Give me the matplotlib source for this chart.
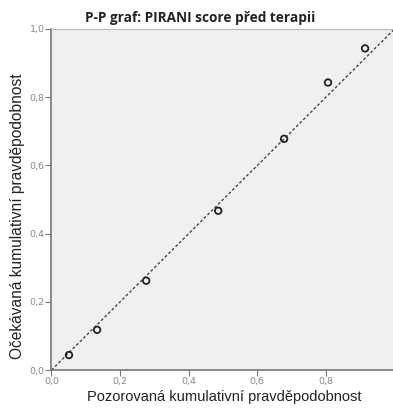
import matplotlib.pyplot as plt

# P-P data: observed vs expected cumulative probability
observed = [0.051, 0.133, 0.276, 0.486, 0.678, 0.806, 0.914]
expected = [0.044, 0.118, 0.262, 0.467, 0.678, 0.843, 0.943]
tick_vals = [0.0, 0.2, 0.4, 0.6, 0.8, 1.0]
x_tick_labels = ['0,0', '0,2', '0,4', '0,6', '0,8', '1']
y_tick_labels = ['0,0', '0,2', '0,4', '0,6', '0,8', '1,0']

fig = plt.figure(figsize=(3.93, 4.08), dpi=100)
ax = fig.add_axes([0.131, 0.093, 0.873, 0.836])
ax.set_facecolor('#eff0f2')

# diagonal reference line
ax.plot([0, 1], [0, 1], color='#444444', linestyle=(0, (2, 1.6)), linewidth=1.0, zorder=2)
ax.scatter(observed, expected, s=22, facecolors='none', edgecolors='#222222',
           linewidths=1.3, zorder=3)

ax.set_xlim(0, 1)
ax.set_ylim(0, 1)
ax.set_xticks(tick_vals)
ax.set_xticklabels(x_tick_labels)
ax.set_yticks(tick_vals)
ax.set_yticklabels(y_tick_labels)
ax.tick_params(labelsize=6.8, labelcolor='#888888', color='#777777', length=4, width=0.8, pad=1)

for side in ['left', 'bottom']:
    ax.spines[side].set_color('#777777')
    ax.spines[side].set_linewidth(1.2)
for side in ['top', 'right']:
    ax.spines[side].set_color('#bbbbbb')
    ax.spines[side].set_linewidth(0.8)

# axis titles and chart title
fig.text(224 / 393, 1 - 397 / 408, 'Pozorovaná kumulativní pravděpodobnost',
         ha='center', va='center', fontsize=10.5, family='Liberation Sans', color='#222222')
fig.text(18 / 393, 1 - 216 / 408, 'Očekávaná kumulativní pravděpodobnost',
         ha='center', va='center', rotation=90, fontsize=11.2,
         family='Liberation Sans', color='#222222')
fig.text(200 / 393, 1 - 18 / 408, 'P-P graf: PIRANI score před terapii', ha='center', va='center',
         fontsize=9.8, fontweight='bold', family='Open Sans', color='#222222')

fig.savefig('out.png', dpi=100)
